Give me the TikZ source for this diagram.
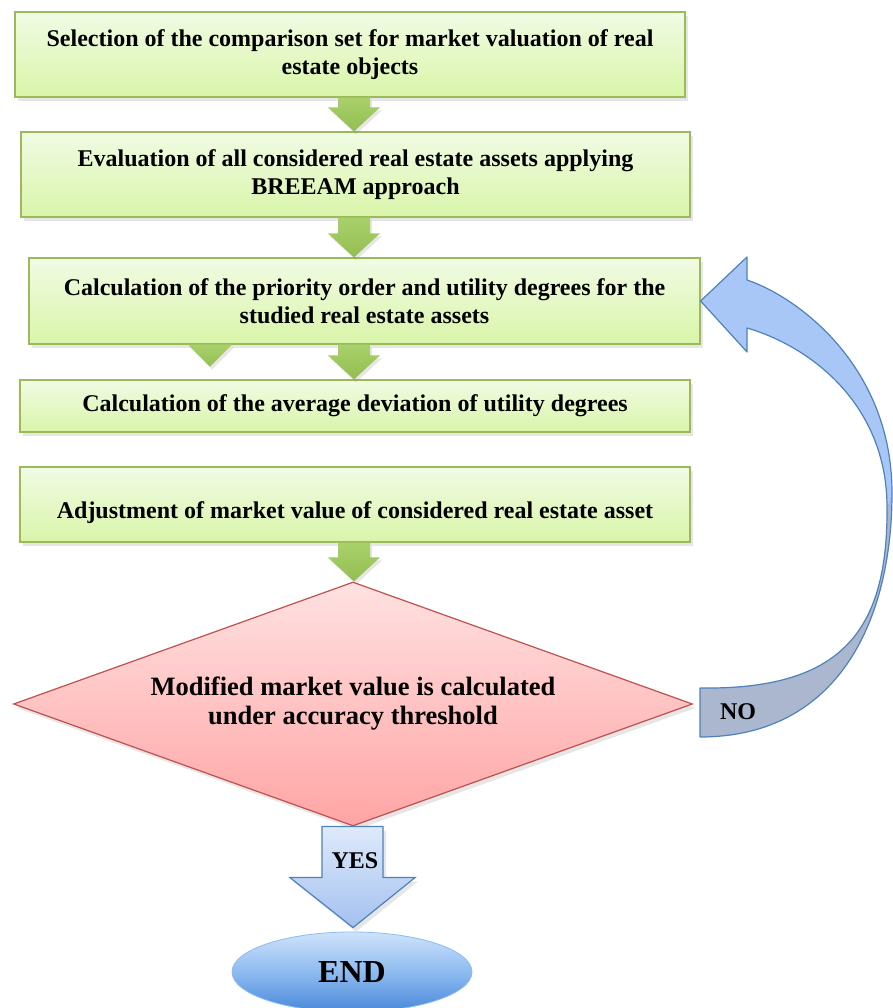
\documentclass[tikz,border=0pt]{standalone}
\usepackage{fontspec}
\setmainfont{Liberation Serif}
\usepackage{xcolor}
\usepackage{tikz}
\usetikzlibrary{shapes.geometric, shadows, calc}

\definecolor{boxtop}{HTML}{F1FBE4}
\definecolor{boxbot}{HTML}{D9F5A9}
\definecolor{boxline}{HTML}{9BBB59}
\definecolor{arrowtop}{HTML}{A9D16B}
\definecolor{arrowbot}{HTML}{93BE51}
\definecolor{diatop}{HTML}{FFE1E1}
\definecolor{diabot}{HTML}{FFA5A5}
\definecolor{dialine}{HTML}{C0504D}
\definecolor{bluetop}{HTML}{DFEAFB}
\definecolor{bluebot}{HTML}{A3C1EF}
\definecolor{blueline}{HTML}{4F81BD}
\definecolor{noback}{HTML}{AAB7CF}
\definecolor{nofront}{HTML}{A8C7F6}
\definecolor{endtop}{HTML}{CFE3FA}
\definecolor{endmid}{HTML}{8DBBF0}
\definecolor{endbot}{HTML}{4A88DA}

% green block arrow from the bottom of one box to the top of the next
\newcommand{\greenarrow}[2]{%
  \path[garrow] let \p1=(#1.south), \p2=(#2.north) in
    (338,\y1) -- (370,\y1) -- (370,\y2+24) -- (380,\y2+24) -- (354,\y2)
    -- (328,\y2+24) -- (338,\y2+24) -- cycle;}

\begin{document}
\begin{tikzpicture}[x=1pt, y=1pt,
    txt/.style={font=\fontsize{24}{28}\selectfont\bfseries},
    stepbox/.style={txt, draw=boxline, line width=1.2pt, top color=boxtop, bottom color=boxbot,
      minimum width=670pt, minimum height=85pt, align=center,
      drop shadow={shadow xshift=3pt, shadow yshift=-4pt, opacity=0.2}},
    garrow/.style={top color=arrowtop, bottom color=arrowbot,
      drop shadow={shadow xshift=2pt, shadow yshift=-3pt, opacity=0.2}},
    check/.style={diamond, aspect=2.8, draw=dialine, line width=1.2pt,
      top color=diatop, bottom color=diabot, minimum width=679pt, minimum height=244pt,
      inner sep=0pt, align=center, font=\fontsize{26.5}{29}\selectfont\bfseries,
      drop shadow={shadow xshift=3pt, shadow yshift=-4pt, opacity=0.2}},
    yarrow/.style={draw=blueline, line width=1.2pt, top color=bluetop, bottom color=bluebot,
      drop shadow={shadow xshift=3pt, shadow yshift=-4pt, opacity=0.2}},
    finish/.style={ellipse, draw=endmid, line width=0.8pt, minimum width=240pt, minimum height=80pt,
      top color=endtop, bottom color=endbot, middle color=endmid,
      font=\fontsize{32}{36}\selectfont\bfseries},
    lab/.style={font=\fontsize{24}{28}\selectfont\bfseries}]

    \useasboundingbox (0,0) rectangle (893,1008);

    % Draw the steps
    \node[stepbox] (s1) at (350,953.5) {Selection of the comparison set for market valuation of real\\ estate objects};
    \node[stepbox, minimum width=669pt] (s2) at (355.5,833.5) {Evaluation of all considered real estate assets applying\\ BREEAM approach};
    \node[stepbox, minimum width=671pt, minimum height=86pt] (s3) at (364.5,707) {Calculation of the priority order and utility degrees for the\\ studied real estate assets};
    \node[stepbox, minimum height=52pt] (s4) at (355,602) {Calculation of the average deviation of utility degrees};
    \node[stepbox, minimum height=75pt, text height=34pt] (s5) at (355,503.5) {Adjustment of market value of considered real estate asset};

    % Draw the decision and the end
    \node[check] (d1) at (353,304) {Modified market value is calculated\\ under accuracy threshold};
    \node[finish] (e1) at (352,36) {END};

    % Draw the green arrows between the steps
    \greenarrow{s1}{s2}
    \greenarrow{s2}{s3}
    \greenarrow{s3}{s4}
    \greenarrow{s5}{d1}
    \path[garrow] let \p1=(s3.south) in (188,\y1) -- (232,\y1) -- (210,\y1-22) -- cycle;

    % Draw the YES arrow
    \path[yarrow] let \p1=(d1.south), \p2=(e1.north) in
        (322,\y1) -- (383,\y1) -- (383,\y2+54) -- (415,\y2+54) -- (353,\y2+4)
        -- (290,\y2+54) -- (322,\y2+54) -- cycle;
    \node[lab] (yes) at (355,147) {YES};

    % Draw the NO arrow back to the third step
    \fill[noback] (892,515) .. controls (892,390) and (840,271) .. (700,271) -- (700,320)
        .. controls (840,318) and (888,375) .. (887,501) -- cycle;
    \fill[nofront] (747,728) .. controls (800,710) and (892,640) .. (892,515) -- (887,501)
        .. controls (887,600) and (815,660) .. (747,680) -- (747,656) -- (s3.east) -- (747,751) -- cycle;
    \draw[blueline, line width=1.2pt, line join=round] (747,728) .. controls (800,710) and (892,640) .. (892,515)
        .. controls (892,390) and (840,271) .. (700,271) -- (700,320)
        .. controls (840,318) and (888,375) .. (887,501)
        .. controls (887,600) and (815,660) .. (747,680) -- (747,656) -- (s3.east) -- (747,751) -- cycle;
    \node[lab] (no) at (738,296) {NO};
\end{tikzpicture}
\end{document}
